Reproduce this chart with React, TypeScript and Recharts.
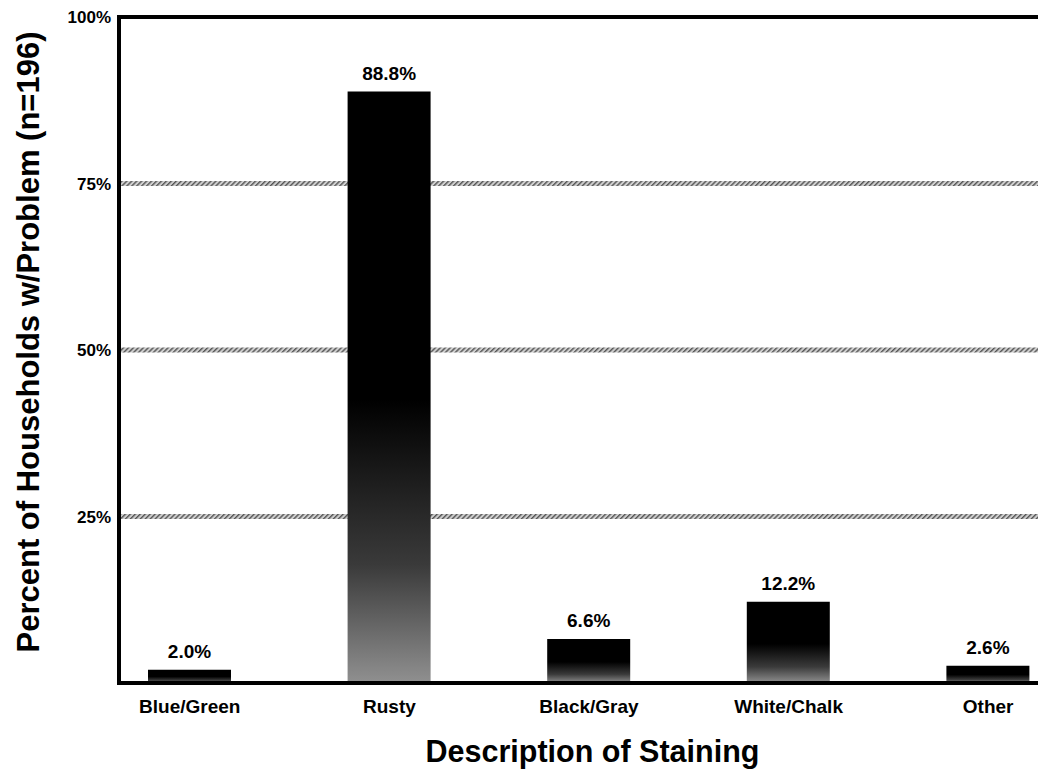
import React from 'react';
import { BarChart, Bar, XAxis, YAxis, ReferenceLine, LabelList, Label, CartesianGrid } from 'recharts';

const categories = ['Blue/Green', 'Rusty', 'Black/Gray', 'White/Chalk', 'Other'];
const percents = [2.0, 88.8, 6.6, 12.2, 2.6];
const yTicks = [25, 50, 75, 100];
const gridValues = [25, 50, 75];

const data = categories.map((name, i) => ({ name, value: percents[i] }));

const FONT = '"Liberation Sans", Arial, Helvetica, sans-serif';

const YTitle = (props: any) => {
  const vb = props.viewBox || { x: 0, y: 0, width: 0, height: 0 };
  const cx = vb.x + 39;
  const cy = vb.y + vb.height / 2 - 8;
  return (
    <text
      x={cx}
      y={cy}
      transform={`rotate(-90 ${cx} ${cy})`}
      textAnchor="middle"
      fontSize={31}
      fontWeight="bold"
      fontFamily={FONT}
      fill="#000"
    >
      Percent of Households w/Problem (n=196)
    </text>
  );
};

const XTitle = (props: any) => {
  const vb = props.viewBox || { x: 0, y: 0, width: 0, height: 0 };
  const cx = vb.x + vb.width / 2 - 11;
  const cy = vb.y + vb.height - 8;
  return (
    <text x={cx} y={cy} textAnchor="middle" fontSize={30.5} fontWeight="bold" fontFamily={FONT} fill="#000">
      Description of Staining
    </text>
  );
};

export default function App() {
  return (
    <div
      style={{
        position: 'absolute',
        left: 0,
        top: 0,
        width: 1038,
        height: 770,
        overflow: 'hidden',
        background: '#fff',
        fontFamily: FONT,
      }}
    >
      <BarChart
        width={1088}
        height={770}
        data={data}
        margin={{ top: 17, right: 0, bottom: 0, left: 0 }}
        style={{ fontFamily: FONT }}
      >
        <defs>
          <linearGradient id="barFade" x1="0" y1="0" x2="0" y2="1">
            <stop offset="0" stopColor="#000" />
            <stop offset="0.52" stopColor="#000" />
            <stop offset="0.8" stopColor="#3a3a3a" />
            <stop offset="1" stopColor="#909090" />
          </linearGradient>
          <pattern id="hatch" patternUnits="userSpaceOnUse" width="3.5" height="3.5" patternTransform="rotate(45)">
            <rect width="3.5" height="3.5" fill="#cfcfcf" />
            <rect width="1.4" height="3.5" fill="#555" />
          </pattern>
        </defs>
        <CartesianGrid
          vertical={false}
          horizontalValues={gridValues}
          stroke="url(#hatch)"
          strokeWidth={5}
        />
        <XAxis
          dataKey="name"
          height={87}
          padding={{ left: -29, right: 0 }}
          interval={0}
          tickLine={false}
          tickSize={0}
          tickMargin={17}
          axisLine={{ stroke: '#000', strokeWidth: 4, strokeLinecap: 'square' }}
          tick={{ fontSize: 19, fontWeight: 'bold', fill: '#000', fontFamily: FONT }}
        >
          <Label content={<XTitle />} />
        </XAxis>
        <YAxis
          width={119}
          domain={[0, 100]}
          ticks={yTicks}
          tickFormatter={(v: number) => `${v}%`}
          tickLine={false}
          tickSize={0}
          tickMargin={8}
          axisLine={{ stroke: '#000', strokeWidth: 4, strokeLinecap: 'square' }}
          tick={{ fontSize: 17, fontWeight: 'bold', fill: '#000', fontFamily: FONT }}
        >
          <Label content={<YTitle />} />
        </YAxis>
        <ReferenceLine y={100} stroke="#000" strokeWidth={4} />
        <Bar dataKey="value" fill="url(#barFade)" barSize={83} isAnimationActive={false}>
          <LabelList
            dataKey="value"
            position="top"
            offset={12}
            formatter={(v: any) => `${Number(v).toFixed(1)}%`}
            style={{ fontSize: 19, fontWeight: 'bold', fill: '#000', fontFamily: FONT }}
          />
        </Bar>
      </BarChart>
    </div>
  );
}
